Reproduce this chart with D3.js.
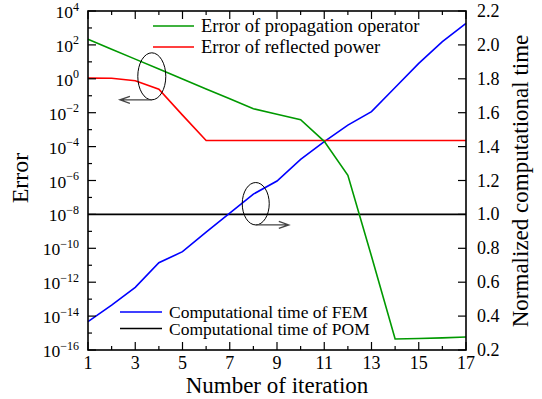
<!DOCTYPE html>
<html>
<head>
<meta charset="utf-8">
<script src="https://cdn.jsdelivr.net/npm/d3@7"></script>
<style>
  body { margin: 0; background: #fff; }
  svg text { font-family: "Liberation Serif", "Times New Roman", serif; fill: #000; }
</style>
</head>
<body>
<div id="chart"></div>
<script>
var iterations = [1, 2, 3, 4, 5, 6, 7, 8, 9, 10, 11, 12, 13, 14, 15, 16, 17];

// left axis (log) series
var propError = [216, 56, 14.5, 3.8, 0.98, 0.254, 0.066, 0.0172, 0.0081, 0.0039,
  2.04e-4, 2.04e-6, 3.4e-11, 4.5e-16, 4.8e-16, 5.2e-16, 5.8e-16];
var reflError = [1.1, 1.07, 0.76, 0.245, 0.0072, 2.3e-4, 2.3e-4, 2.3e-4, 2.3e-4,
  2.3e-4, 2.3e-4, 2.3e-4, 2.3e-4, 2.3e-4, 2.3e-4, 2.3e-4, 2.3e-4];

// right axis (linear) series
var timeFEM = [0.367, 0.465, 0.570, 0.715, 0.780, 0.896, 1.008, 1.120, 1.197, 1.325,
  1.429, 1.527, 1.606, 1.749, 1.891, 2.019, 2.127];
var timePOM = [1, 1, 1, 1, 1, 1, 1, 1, 1, 1, 1, 1, 1, 1, 1, 1, 1];

var xTickLabels = [1, 3, 5, 7, 9, 11, 13, 15, 17];
var leftExps = [4, 2, 0, -2, -4, -6, -8, -10, -12, -14, -16];
var rightTicks = [0.2, 0.4, 0.6, 0.8, 1.0, 1.2, 1.4, 1.6, 1.8, 2.0, 2.2];

var width = 542, height = 399;
var pLeft = 88, pRight = 466, pTop = 11, pBottom = 350;

var svg = d3.select("#chart").append("svg")
  .attr("width", width)
  .attr("height", height);

var x = d3.scaleLinear().domain([1, 17]).range([pLeft, pRight]);
var yL = d3.scaleLog().domain([1e-16, 1e4]).range([pBottom, pTop]);
var yR = d3.scaleLinear().domain([0.2, 2.2]).range([pBottom, pTop]);

/* lines */
var lineL = d3.line().x((d, i) => x(iterations[i])).y(d => yL(d));
var lineR = d3.line().x((d, i) => x(iterations[i])).y(d => yR(d));

var series = [
  { v: timePOM, line: lineR, color: "#000000" },
  { v: timeFEM, line: lineR, color: "#0000ff" },
  { v: reflError, line: lineL, color: "#ff0000" },
  { v: propError, line: lineL, color: "#009900" }
];

series.forEach(function(s) {
  svg.append("path")
    .attr("d", s.line(s.v))
    .attr("fill", "none")
    .attr("stroke", s.color)
    .attr("stroke-width", 1.6);
});

/* annotations: ellipses + arrows */
var ann = [
  { cx: 3.7, cy: yL(1.4), rx: 14, ry: 23.5, ax0: 3.7, ax1: 2.35 },
  { cx: 8.1, cy: yR(1.063), rx: 13.5, ry: 21.2, ax0: 8.1, ax1: 9.5 }
];
ann.forEach(function(a) {
  svg.append("ellipse")
    .attr("cx", x(a.cx)).attr("cy", a.cy)
    .attr("rx", a.rx).attr("ry", a.ry)
    .attr("fill", "none").attr("stroke", "#000").attr("stroke-width", 1);
  var x0 = x(a.ax0), x1 = x(a.ax1), ay = a.cy + a.ry, dir = x1 < x0 ? 1 : -1;
  svg.append("path")
    .attr("d", `M${x0},${ay}L${x1},${ay}M${x1 + dir * 10},${ay - 3.5}L${x1},${ay}L${x1 + dir * 10},${ay + 3.5}`)
    .attr("fill", "none").attr("stroke", "#444").attr("stroke-width", 1.3);
});

/* axes */
var ax = svg.append("g");
var allIter = d3.range(1, 18);
var majorX = allIter.filter(d => d % 2 === 1), minorX = allIter.filter(d => d % 2 === 0);

function tickLines(g, vals, pos, len, orient) {
  vals.forEach(function(v) {
    var p = pos(v);
    var l = g.append("line").attr("stroke", "#000").attr("stroke-width", 1.2);
    if (orient === "bottom") l.attr("x1", p).attr("x2", p).attr("y1", pBottom).attr("y2", pBottom - len);
    if (orient === "top") l.attr("x1", p).attr("x2", p).attr("y1", pTop).attr("y2", pTop + len);
    if (orient === "left") l.attr("y1", p).attr("y2", p).attr("x1", pLeft).attr("x2", pLeft + len);
    if (orient === "right") l.attr("y1", p).attr("y2", p).attr("x1", pRight).attr("x2", pRight - len);
  });
}
tickLines(ax, majorX, x, 8, "bottom");
tickLines(ax, minorX, x, 4, "bottom");
tickLines(ax, majorX, x, 8, "top");
tickLines(ax, minorX, x, 4, "top");
tickLines(ax, leftExps.map(e => Math.pow(10, e)), yL, 8, "left");
tickLines(ax, d3.range(-15, 4, 2).map(e => Math.pow(10, e)), yL, 4, "left");
tickLines(ax, rightTicks, yR, 8, "right");

svg.append("rect")
  .attr("x", pLeft).attr("y", pTop)
  .attr("width", pRight - pLeft).attr("height", pBottom - pTop)
  .attr("fill", "none").attr("stroke", "#000").attr("stroke-width", 1.6);

/* tick labels */
xTickLabels.forEach(function(v) {
  svg.append("text").attr("x", x(v)).attr("y", 369)
    .attr("text-anchor", "middle").style("font-size", "18px").text(v);
});

leftExps.forEach(function(e) {
  var t = svg.append("text").attr("x", 79).attr("y", yL(Math.pow(10, e)) + 7)
    .attr("text-anchor", "end").style("font-size", "17.5px");
  t.append("tspan").text("10");
  t.append("tspan").attr("dy", -7.5).style("font-size", "12px").text(e < 0 ? "\u2212" + (-e) : e);
});

rightTicks.forEach(function(v) {
  svg.append("text").attr("x", 477).attr("y", yR(v) + 6)
    .style("font-size", "18px").text(v.toFixed(1));
});

/* axis titles */
svg.append("text").attr("x", 277).attr("y", 393)
  .attr("text-anchor", "middle").style("font-size", "23px").text("Number of iteration");
svg.append("text")
  .attr("transform", "translate(28,178) rotate(-90)")
  .attr("text-anchor", "middle").style("font-size", "24px").text("Error");
svg.append("text")
  .attr("transform", "translate(528,181) rotate(-90)")
  .attr("text-anchor", "middle").style("font-size", "23px").text("Normalized computational time");

/* legends */
var legend = [
  { label: "Error of propagation operator", color: "#009900", x1: 153, x2: 194, y: 26, fs: 18.5 },
  { label: "Error of reflected power", color: "#ff0000", x1: 153, x2: 194, y: 47, fs: 18.5 },
  { label: "Computational time of FEM", color: "#0000ff", x1: 120, x2: 162, y: 312, fs: 17.5 },
  { label: "Computational time of POM", color: "#000000", x1: 120, x2: 162, y: 328.5, fs: 17.5 }
];
legend.forEach(function(l) {
  svg.append("line").attr("x1", l.x1).attr("x2", l.x2).attr("y1", l.y).attr("y2", l.y)
    .attr("stroke", l.color).attr("stroke-width", 1.6);
  svg.append("text").attr("x", l.x2 + 7).attr("y", l.y + 6)
    .style("font-size", l.fs + "px").text(l.label);
});
</script>
</body>
</html>
